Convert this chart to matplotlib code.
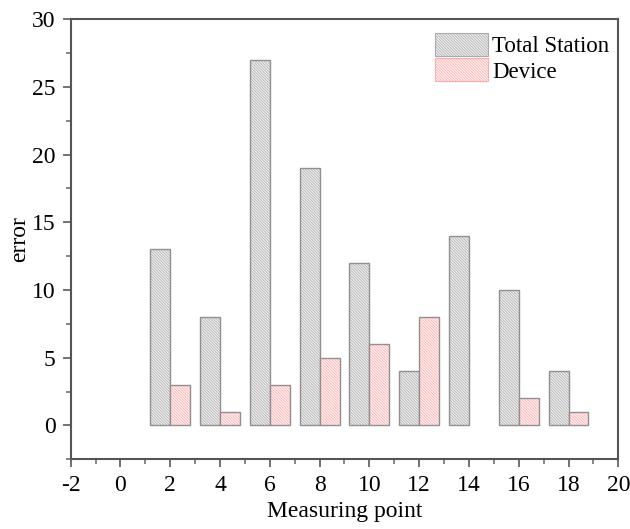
import numpy as np
import matplotlib
matplotlib.use("Agg")
import matplotlib.pyplot as plt
from matplotlib.patches import Patch
from matplotlib import ticker

points = [2, 4, 6, 8, 10, 12, 14, 16, 18]
total_station = [13, 8, 27, 19, 12, 4, 14, 10, 4]
device = [3, 1, 3, 5, 6, 8, 0, 2, 1]

plt.rcParams['font.family'] = ['Liberation Serif', 'DejaVu Serif']
plt.rcParams['hatch.linewidth'] = 0.5

fig = plt.figure(figsize=(6.3, 5.29), dpi=100)
ax = fig.add_axes([0.1122, 0.1318, 0.8692, 0.8322])

x = np.array(points)
w = 0.8
hatch = '\\' * 12
series = [
    (x - 0.4, np.array(total_station), '#eeeeee', '#ababab', 'Total Station'),
    (x + 0.4, np.array(device), '#fff0f0', '#ffabab', 'Device'),
]
handles = []
for xs, vals, face, hcol, label in series:
    keep = vals > 0
    # hatch drawn with the edge colour, then a grey outline on top
    ax.bar(xs[keep], vals[keep], width=w, color=face, edgecolor=hcol, hatch=hatch, linewidth=0)
    ax.bar(xs[keep], vals[keep], width=w, fill=False, edgecolor='#909090', linewidth=1.0)
    handles.append(Patch(facecolor=face, edgecolor=hcol, hatch=hatch, linewidth=0.8, label=label))

ax.set_xlim(-2, 20)
ax.set_ylim(-2.5, 30)
ax.xaxis.set_major_locator(ticker.MultipleLocator(2))
ax.xaxis.set_minor_locator(ticker.MultipleLocator(1))
ax.yaxis.set_major_locator(ticker.MultipleLocator(5))
ax.yaxis.set_minor_locator(ticker.MultipleLocator(2.5))
ax.xaxis.set_major_formatter(ticker.FuncFormatter(lambda v, p: '%d' % v))

for s in ax.spines.values():
    s.set_color('#555555')
    s.set_linewidth(1.5)
ax.tick_params(which='major', direction='out', length=6, width=1.3, color='#666666',
               labelsize=17, labelcolor='black', pad=5)
ax.tick_params(which='minor', direction='out', length=3.5, width=1.1, color='#666666')

ax.set_xlabel('Measuring point', fontsize=17, labelpad=4)
ax.set_ylabel('error', fontsize=17, labelpad=1)

ax.legend(handles=handles, loc='upper left', bbox_to_anchor=(0.665, 0.968),
          frameon=False, fontsize=16.5, borderpad=0, borderaxespad=0,
          handlelength=2.3, handleheight=1.15, handletextpad=0.2, labelspacing=0.05)

fig.savefig('out.png', dpi=100)
